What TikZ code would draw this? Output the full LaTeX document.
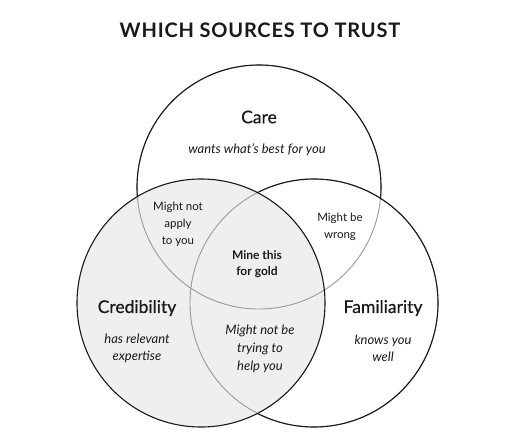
\documentclass[tikz,border=0pt]{standalone}
\usepackage{fontspec}
\setmainfont{Lato}
\definecolor{venngray}{HTML}{EFEFEF}
\definecolor{innerline}{HTML}{9A9A9A}
\begin{document}
\begin{tikzpicture}[x=1pt, y=-1pt,
  every node/.style={inner sep=0pt, text=black!90},
  headword/.style={font=\fontsize{17.5}{20}\selectfont\addfontfeatures{FakeBold=0.6}},
  note/.style={font=\fontsize{11.5}{17}\selectfont, align=center},
  inote/.style={font=\itshape\fontsize{13}{17}\selectfont, align=center},
  outerline/.style={line width=1.1pt, black!90},
  innerarc/.style={line width=0.9pt, innerline}]
  \useasboundingbox (0,0) rectangle (518,447);

  % circle centres
  \coordinate (ctop) at (259,187);
  \coordinate (cleft) at (201,303);
  \coordinate (cright) at (314,303);
  \def\rtop{122pt}
  \def\rlow{124pt}

  % shaded credibility circle
  \fill[venngray] (cleft) circle[radius=\rlow];

  % inner arcs
  \draw[innerarc] (ctop) circle[radius=\rtop];
  \draw[innerarc] (cright) circle[radius=\rlow];

  % outer arcs
  \draw[outerline] (cleft) circle[radius=\rlow];
  \begin{scope}[even odd rule]
    \clip (0,0) rectangle (518,447) (cleft) circle[radius=\rlow];
    \clip (0,0) rectangle (518,447) (cright) circle[radius=\rlow];
    \draw[outerline] (ctop) circle[radius=\rtop];
  \end{scope}
  \begin{scope}[even odd rule]
    \clip (0,0) rectangle (518,447) (cleft) circle[radius=\rlow];
    \draw[outerline] (cright) circle[radius=\rlow];
  \end{scope}

  % title
  \node[font=\bfseries\fontsize{20}{22}\selectfont\addfontfeatures{LetterSpace=4}] (title) at (260,30) {WHICH SOURCES TO TRUST};

  % Care
  \node[headword] (care) at (259,117) {Care};
  \node[inote] (careText) at (257,150) {wants what’s best for you};

  % Credibility
  \node[headword] (cred) at (137,308) {Credibility};
  \node[inote] (credText) at (137,348.5) {has relevant\\expertise};

  % Familiarity
  \node[headword] (fam) at (383,308) {Familiarity};
  \node[inote] (famText) at (383,348.5) {knows you\\well};

  % overlaps
  \node[note] (apply) at (178,224) {Might not\\apply\\to you};
  \node[note] (wrong) at (340,226.5) {Might be\\wrong};
  \node[note, font=\bfseries\fontsize{12}{16}\selectfont] (gold) at (257,264) {Mine this\\for gold};
  \node[inote, font=\itshape\fontsize{13}{18}\selectfont] (help) at (260,349) {Might not be\\trying to\\help you};
\end{tikzpicture}
\end{document}
